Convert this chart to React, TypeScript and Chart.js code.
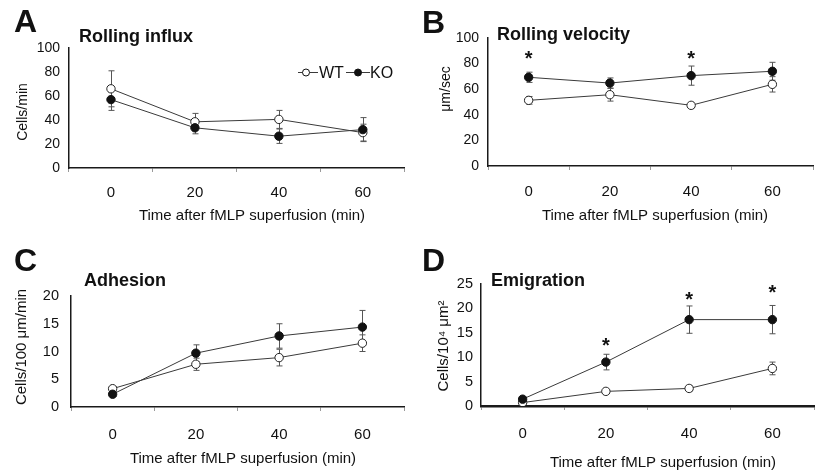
import React, { useEffect, useRef } from "react";
import { Chart, registerables } from "chart.js";

Chart.register(...registerables);

const FONT = "'Liberation Sans', Arial, Helvetica, sans-serif";

// categories (time after fMLP superfusion, min)
const timeLabels = ["0", "20", "40", "60"];
const seriesNames = ["WT", "KO"];

// A: Rolling influx (cells/min)
const influxWT = [66, 38.5, 40.5, 29.5];
const influxWTErr = [15, 7, 7.5, 7];
const influxKO = [57, 33.5, 26.5, 32];
const influxKOErr = [9, 5, 6, 10];

// B: Rolling velocity (µm/sec)
const velocityWT = [51.3, 55.7, 47.4, 63.8];
const velocityWTErr = [3, 5, 2, 6];
const velocityKO = [69.3, 64.8, 70.6, 74];
const velocityKOErr = [4, 4, 7.5, 7];
const velocityStars = [86.5, null, 86.5, null];

// C: Adhesion (cells/100 µm/min)
const adhesionWT = [3.3, 7.7, 8.9, 11.5];
const adhesionWTErr = [0.4, 1.1, 1.5, 1.5];
const adhesionKO = [2.3, 9.7, 12.8, 14.4];
const adhesionKOErr = [0.4, 1.5, 2.2, 3.0];

// D: Emigration (cells/10^4 µm^2)
const emigrationWT = [0.7, 3.0, 3.6, 7.7];
const emigrationWTErr = [0.3, 0.4, 0.6, 1.3];
const emigrationKO = [1.4, 9.0, 17.7, 17.7];
const emigrationKOErr = [0.4, 1.6, 2.8, 2.9];
const emigrationStars = [null, 13.1, 22.5, 24.0];

// y-axis tick settings
const yMaxA = 100, yStepA = 20;
const yMaxB = 100, yStepB = 20;
const yMaxC = 20, yStepC = 5;
const yMaxD = 25, yStepD = 5;

type Spec = {
  id: string;
  left: number;
  top: number;
  area: { l: number; t: number; r: number; b: number };
  yMax: number;
  yStep: number;
  yTickPad: number;
  yTickSize: number;
  wt: number[];
  wtErr: number[];
  ko: number[];
  koErr: number[];
  stars: (number | null)[] | null;
  letter: string;
  letterX: number;
  letterY: number;
  title: string;
  titleX: number;
  titleY: number;
  yTitle: string;
  yTitleX: number;
  yTitleY: number;
  yTitleSize: number;
  xTitle: string;
  xTitleX: number;
  xTitleY: number;
  xLabelY: number;
  xBorderW: number;
  legend: boolean;
};

const W = 410;
const H = 236;
const X_TITLE = "Time after fMLP superfusion (min)";

const specs: Spec[] = [
  {
    id: "A", left: 0, top: 0,
    area: { l: 69, t: 48, r: 408, b: 168 },
    yMax: yMaxA, yStep: yStepA, yTickPad: 9, yTickSize: 14,
    wt: influxWT, wtErr: influxWTErr, ko: influxKO, koErr: influxKOErr,
    stars: null,
    letter: "A", letterX: 14, letterY: 32,
    title: "Rolling influx", titleX: 79, titleY: 42,
    yTitle: "Cells/min", yTitleX: 23, yTitleY: 112, yTitleSize: 14,
    xTitle: X_TITLE, xTitleX: 252, xTitleY: 216, xLabelY: 193, xBorderW: 1.5,
    legend: true,
  },
  {
    id: "B", left: 410, top: 0,
    area: { l: 78, t: 38, r: 403, b: 166 },
    yMax: yMaxB, yStep: yStepB, yTickPad: 9, yTickSize: 14,
    wt: velocityWT, wtErr: velocityWTErr, ko: velocityKO, koErr: velocityKOErr,
    stars: velocityStars,
    letter: "B", letterX: 12, letterY: 33,
    title: "Rolling velocity", titleX: 87, titleY: 40,
    yTitle: "\u03bcm/sec", yTitleX: 36, yTitleY: 89, yTitleSize: 14,
    xTitle: X_TITLE, xTitleX: 245, xTitleY: 216, xLabelY: 192, xBorderW: 1.5,
    legend: false,
  },
  {
    id: "C", left: 0, top: 236,
    area: { l: 71, t: 60, r: 404, b: 171 },
    yMax: yMaxC, yStep: yStepC, yTickPad: 12, yTickSize: 14.5,
    wt: adhesionWT, wtErr: adhesionWTErr, ko: adhesionKO, koErr: adhesionKOErr,
    stars: null,
    letter: "C", letterX: 14, letterY: 35,
    title: "Adhesion", titleX: 84, titleY: 50,
    yTitle: "Cells/100 \u03bcm/min", yTitleX: 22, yTitleY: 111, yTitleSize: 15,
    xTitle: X_TITLE, xTitleX: 243, xTitleY: 223, xLabelY: 199, xBorderW: 1.5,
    legend: false,
  },
  {
    id: "D", left: 410, top: 236,
    area: { l: 71, t: 48, r: 404, b: 170 },
    yMax: yMaxD, yStep: yStepD, yTickPad: 8, yTickSize: 14.5,
    wt: emigrationWT, wtErr: emigrationWTErr, ko: emigrationKO, koErr: emigrationKOErr,
    stars: emigrationStars,
    letter: "D", letterX: 12, letterY: 35,
    title: "Emigration", titleX: 81, titleY: 50,
    yTitle: "Cells/10\u2074 \u03bcm\u00b2", yTitleX: 34, yTitleY: 110, yTitleSize: 15,
    xTitle: X_TITLE, xTitleX: 253, xTitleY: 227, xLabelY: 198, xBorderW: 2.5,
    legend: false,
  },
];

const TEXT = "#111";
const LINE = "#3a3a3a";
const ERR = "#555";

function Panel({ s }: { s: Spec }) {
  const ref = useRef<HTMLCanvasElement | null>(null);

  useEffect(() => {
    const canvas = ref.current;
    if (!canvas) return;

    const overlay = {
      id: "overlay" + s.id,
      beforeDatasetsDraw(chart: any) {
        const ctx = chart.ctx;
        const xs = chart.scales.x;
        const ys = chart.scales.y;
        ctx.save();
        ctx.strokeStyle = ERR;
        ctx.lineWidth = 1;
        const groups: [number[], number[]][] = [
          [s.wt, s.wtErr],
          [s.ko, s.koErr],
        ];
        groups.forEach(([vals, errs]) => {
          vals.forEach((v, i) => {
            const px = Math.round(xs.getPixelForValue(i)) + 0.5;
            const top = ys.getPixelForValue(v + errs[i]);
            const bot = ys.getPixelForValue(Math.max(0, v - errs[i]));
            ctx.beginPath();
            ctx.moveTo(px, top);
            ctx.lineTo(px, bot);
            ctx.moveTo(px - 3, top);
            ctx.lineTo(px + 3, top);
            ctx.moveTo(px - 3, bot);
            ctx.lineTo(px + 3, bot);
            ctx.stroke();
          });
        });
        ctx.restore();
      },
      afterDraw(chart: any) {
        const ctx = chart.ctx;
        const xs = chart.scales.x;
        const ys = chart.scales.y;
        ctx.save();
        ctx.fillStyle = TEXT;
        // panel letter
        ctx.font = `bold 32px ${FONT}`;
        ctx.textAlign = "left";
        ctx.textBaseline = "alphabetic";
        ctx.fillText(s.letter, s.letterX, s.letterY);
        // panel title
        ctx.font = `bold 18px ${FONT}`;
        ctx.fillText(s.title, s.titleX, s.titleY);
        // x title
        ctx.font = `15px ${FONT}`;
        ctx.textAlign = "center";
        ctx.textBaseline = "middle";
        ctx.fillText(s.xTitle, s.xTitleX, s.xTitleY);
        // y title
        ctx.save();
        ctx.translate(s.yTitleX, s.yTitleY);
        ctx.rotate(-Math.PI / 2);
        ctx.font = `${s.yTitleSize}px ${FONT}`;
        ctx.fillText(s.yTitle, 0, 0);
        ctx.restore();
        // significance stars
        if (s.stars) {
          ctx.font = `bold 20px ${FONT}`;
          ctx.textAlign = "center";
          ctx.textBaseline = "alphabetic";
          s.stars.forEach((v, i) => {
            if (v === null) return;
            const m = ctx.measureText("*");
            const asc = m.actualBoundingBoxAscent;
            const desc = m.actualBoundingBoxDescent;
            const py = ys.getPixelForValue(v);
            ctx.fillText("*", xs.getPixelForValue(i), py + (asc - desc) / 2);
          });
        }
        // legend
        if (s.legend) {
          const ly = 72.5;
          ctx.strokeStyle = LINE;
          ctx.lineWidth = 1;
          ctx.font = `16px ${FONT}`;
          ctx.textAlign = "left";
          ctx.textBaseline = "middle";
          const items = [
            { x0: 298, x1: 318, cx: 306, fill: "#fff", tx: 319, label: seriesNames[0] },
            { x0: 346, x1: 370, cx: 358, fill: "#111", tx: 370, label: seriesNames[1] },
          ];
          items.forEach((it) => {
            ctx.beginPath();
            ctx.moveTo(it.x0, ly);
            ctx.lineTo(it.x1, ly);
            ctx.stroke();
            ctx.beginPath();
            ctx.arc(it.cx, ly, 3.5, 0, Math.PI * 2);
            ctx.fillStyle = it.fill;
            ctx.fill();
            ctx.strokeStyle = "#111";
            ctx.stroke();
            ctx.strokeStyle = LINE;
            ctx.fillStyle = TEXT;
            ctx.fillText(it.label, it.tx, ly + 1);
          });
        }
        ctx.restore();
      },
    };

    const xAxisH = H - s.area.b;
    const xPad = s.xLabelY - s.area.b - 4 - 9;

    const chart = new Chart(canvas, {
      type: "line",
      data: {
        labels: timeLabels,
        datasets: [
          {
            label: seriesNames[1],
            data: s.ko,
            borderColor: LINE,
            borderWidth: 1,
            pointRadius: 4.2,
            pointBackgroundColor: "#111",
            pointBorderColor: "#111",
            pointBorderWidth: 1,
            fill: false,
            tension: 0,
          },
          {
            label: seriesNames[0],
            data: s.wt,
            borderColor: LINE,
            borderWidth: 1,
            pointRadius: 4.2,
            pointBackgroundColor: "#fff",
            pointBorderColor: "#222",
            pointBorderWidth: 1,
            fill: false,
            tension: 0,
          },
        ],
      },
      options: {
        responsive: false,
        animation: false,
        devicePixelRatio: 1,
        layout: {
          padding: { left: 0, top: s.area.t, right: W - s.area.r, bottom: 0 },
        },
        plugins: {
          legend: { display: false },
          tooltip: { enabled: false },
          title: { display: false },
        },
        scales: {
          x: {
            type: "category",
            offset: true,
            grid: {
              offset: true,
              drawOnChartArea: false,
              drawTicks: true,
              tickLength: 4,
              color: "#9a9a9a",
              lineWidth: 1,
            },
            border: { display: true, color: "#1a1a1a", width: s.xBorderW },
            ticks: {
              font: { family: FONT, size: 15 },
              color: TEXT,
              padding: xPad,
              maxRotation: 0,
              autoSkip: false,
            },
            afterFit: (sc: any) => {
              sc.height = xAxisH;
            },
          },
          y: {
            min: 0,
            max: s.yMax,
            ticks: {
              stepSize: s.yStep,
              font: { family: FONT, size: s.yTickSize },
              color: TEXT,
              padding: s.yTickPad,
            },
            grid: { display: false, drawTicks: false },
            border: { display: true, color: "#1a1a1a", width: 1.5 },
            afterFit: (sc: any) => {
              sc.width = s.area.l;
            },
          },
        },
      } as any,
      plugins: [overlay],
    });

    return () => {
      chart.destroy();
    };
  }, [s]);

  return (
    <canvas
      ref={ref}
      width={W}
      height={H}
      style={{
        position: "absolute",
        left: s.left,
        top: s.top,
        width: W,
        height: H,
        display: "block",
      }}
    />
  );
}

export default function App() {
  return (
    <div
      style={{
        position: "absolute",
        left: 0,
        top: 0,
        width: 820,
        height: 472,
        background: "#fff",
        overflow: "hidden",
      }}
    >
      {specs.map((s) => (
        <Panel key={s.id} s={s} />
      ))}
    </div>
  );
}
